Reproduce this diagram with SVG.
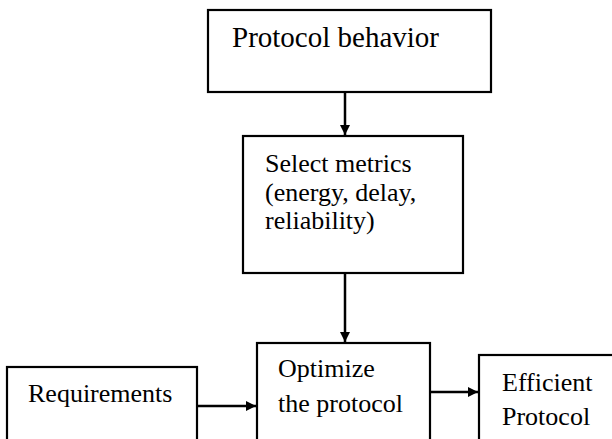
<svg xmlns="http://www.w3.org/2000/svg" width="612" height="439" viewBox="0 0 612 439">
<style>
.box{fill:#fff;stroke:#000;stroke-width:2.2}
.t{font-family:'Liberation Serif','Times New Roman',Times,serif;font-size:26px;fill:#000}
.big{font-size:29px}
.c{stroke:#000;stroke-width:2.5;fill:none}
</style>
<defs>
<marker id="ah" markerWidth="12" markerHeight="12" refX="10" refY="6" orient="auto" markerUnits="userSpaceOnUse">
<path d="M0,1 L10,6 L0,11 Z" fill="#000"/>
</marker>
</defs>
<rect width="612" height="439" fill="#fff"/>
<g id="n1">
<rect class="box" x="208" y="10" width="283" height="82"/>
<text class="t big" x="232" y="47">Protocol behavior</text>
</g>
<g id="n2">
<rect class="box" x="243" y="136" width="220" height="137"/>
<text class="t" x="265" y="172">Select metrics</text>
<text class="t" x="265" y="201">(energy, delay,</text>
<text class="t" x="265" y="229">reliability)</text>
</g>
<g id="n3">
<rect class="box" x="7" y="367" width="190" height="80"/>
<text class="t" x="28" y="402">Requirements</text>
</g>
<g id="n4">
<rect class="box" x="257" y="343" width="173" height="104"/>
<text class="t" x="278" y="377">Optimize</text>
<text class="t" x="278" y="412">the protocol</text>
</g>
<g id="n5">
<rect class="box" x="479" y="355" width="140" height="92"/>
<text class="t" x="502" y="391">Efficient</text>
<text class="t" x="502" y="425">Protocol</text>
</g>
<g id="connectors">
<line class="c" x1="345" y1="92" x2="345" y2="135" marker-end="url(#ah)"/>
<line class="c" x1="345" y1="273" x2="345" y2="342" marker-end="url(#ah)"/>
<line class="c" x1="197" y1="406" x2="256" y2="406" marker-end="url(#ah)"/>
<line class="c" x1="430" y1="392" x2="478" y2="392" marker-end="url(#ah)"/>
</g>
</svg>
